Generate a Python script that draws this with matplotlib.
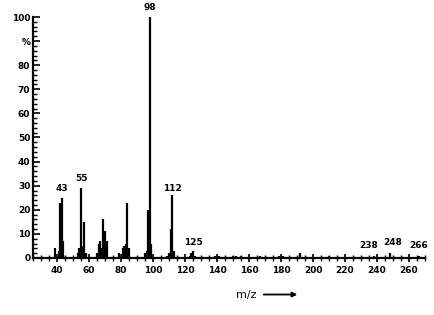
import matplotlib
matplotlib.use('Agg')
import matplotlib.pyplot as plt
from matplotlib.ticker import MultipleLocator

# peak list (m/z, relative intensity %)
mz = [39, 41, 42, 43, 44, 53, 54, 55, 56, 57, 58, 65, 66, 67, 68, 69, 70, 71,
      79, 81, 82, 83, 84, 85, 95, 96, 97, 98, 99, 109, 110, 111, 112, 113,
      123, 124, 125, 126, 139, 141, 150, 152, 155, 167, 179, 181, 192, 210,
      238, 248, 266]
intensity = [4, 3, 23, 25, 7, 2, 4, 29, 5, 15, 2, 2, 6, 7, 4, 16, 11, 7,
             2, 4, 5, 6, 23, 4, 2, 3, 20, 100, 6, 1, 2, 12, 26, 3,
             1, 2, 3, 1, 1, 1, 1, 1, 1, 1, 1, 1, 2, 1,
             1, 2, 1]

labelled = [43, 55, 98, 112, 125, 238, 248, 266]
label_x = [43, 55, 98, 112, 125, 235, 250, 266]
label_y = [27, 31, 102, 27, 4.5, 3.5, 4.5, 3.5]

y_ticks = [0, 10, 20, 30, 40, 50, 60, 70, 80, 90, 100]
y_ticklabels = ['0', '10', '20', '30', '40', '50', '60', '70', '80', '%', '100']
x_ticks = [40, 60, 80, 100, 120, 140, 160, 180, 200, 220, 240, 260]

fig = plt.figure(figsize=(4.35, 3.15), dpi=100)
ax = fig.add_axes([0.076, 0.181, 0.901, 0.765])

ax.vlines(mz, 0, intensity, color='black', linewidth=1.6)

for m, lx, yy in zip(labelled, label_x, label_y):
    ax.text(lx, yy, str(m), ha='center', va='bottom', fontsize=6.5,
            fontweight='bold', clip_on=False)

ax.set_xlim(25, 270)
ax.set_ylim(0, 100)
ax.spines['top'].set_visible(False)
ax.spines['right'].set_visible(False)
ax.spines['left'].set_bounds(0, 100)
ax.spines['left'].set_linewidth(1.6)
ax.spines['bottom'].set_linewidth(1.6)

ax.set_yticks(y_ticks)
ax.set_yticklabels(y_ticklabels, fontsize=6.5, fontweight='bold')
ax.yaxis.set_minor_locator(MultipleLocator(2))
ax.tick_params(axis='y', which='major', direction='in', length=5, width=1.2, pad=2)
ax.tick_params(axis='y', which='minor', direction='in', length=3, width=1)

ax.set_xticks(x_ticks)
ax.set_xticklabels([str(t) for t in x_ticks], fontsize=6.5, fontweight='bold')
ax.xaxis.set_minor_locator(MultipleLocator(5))
ax.tick_params(axis='x', which='major', direction='inout', length=6, width=1.2, pad=3)
ax.tick_params(axis='x', which='minor', direction='inout', length=4, width=1)

# axis caption with arrow below the x axis
fig.text(0.565, 0.065, 'm/z', fontsize=8, ha='center', va='center')
ax.annotate('', xy=(0.69, 0.065), xytext=(0.6, 0.065),
            xycoords='figure fraction', textcoords='figure fraction',
            arrowprops=dict(arrowstyle='-|>', color='black', lw=1.3,
                            mutation_scale=7))

fig.savefig('out.png', dpi=100)
